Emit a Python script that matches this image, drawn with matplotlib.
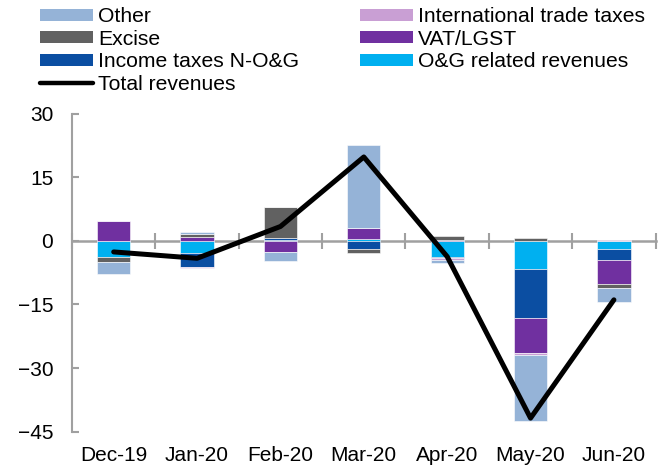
import numpy as np
import matplotlib.pyplot as plt
from matplotlib.patches import Patch
from matplotlib.lines import Line2D

plt.rcParams['font.family'] = ['Liberation Sans', 'DejaVu Sans']

months = ['Dec-19', 'Jan-20', 'Feb-20', 'Mar-20', 'Apr-20', 'May-20', 'Jun-20']

# contributions, in stacking order from zero outwards
og_rev = [-3.9, -2.8, 0.3, 0.5, -3.8, -6.6, -1.9]
income_nog = [0.0, -3.3, 0.5, -1.9, -0.3, -11.7, -2.6]
vat_lgst = [4.6, 0.9, -2.5, 2.5, 0.2, -8.2, -5.6]
excise = [-1.1, 0.8, 7.2, -1.0, 1.0, 0.6, -0.9]
intl_trade = [0.0, -0.4, 0.0, 0.0, -0.3, -0.4, 0.2]
other = [-2.8, 0.5, -2.2, 19.6, -0.8, -15.6, -3.4]
total = [-2.6, -4.1, 3.4, 19.8, -3.7, -41.8, -13.9]

series = [
    ('O&G related revenues', og_rev, '#00B0F0'),
    ('Income taxes N-O&G', income_nog, '#0B4EA2'),
    ('VAT/LGST', vat_lgst, '#7030A0'),
    ('Excise', excise, '#616161'),
    ('International trade taxes', intl_trade, '#C99FD4'),
    ('Other', other, '#95B3D7'),
]

fig = plt.figure(figsize=(6.7, 4.68), dpi=100)
ax = fig.add_axes([0.1075, 0.0776, 0.871, 0.6794])

x = np.arange(len(months))
pos_bottom = np.zeros(len(months))
neg_bottom = np.zeros(len(months))
handles = {}
for name, vals, col in series:
    v = np.array(vals)
    bottom = np.where(v >= 0, pos_bottom, neg_bottom)
    ax.bar(x, v, 0.4, bottom=bottom, color=col, edgecolor='white', linewidth=0.4, zorder=2)
    pos_bottom += np.clip(v, 0, None)
    neg_bottom += np.clip(v, None, 0)
    handles[name] = Patch(facecolor=col, edgecolor='none')

ax.plot(x, total, color='black', lw=3.6, zorder=3, solid_joinstyle='round',
        solid_capstyle='round')
handles['Total revenues'] = Line2D([], [], color='black', lw=3.2, solid_capstyle='round')

ax.set_xlim(-0.5, len(months) - 0.5)
ax.set_ylim(-45, 30)
ax.set_yticks([30, 15, 0, -15, -30, -45])

axis_col = '#A0A0A0'
for s in ['top', 'right']:
    ax.spines[s].set_visible(False)
ax.spines['left'].set_color(axis_col)
ax.spines['left'].set_linewidth(1.5)
ax.spines['bottom'].set_position(('data', 0))
ax.spines['bottom'].set_color(axis_col)
ax.spines['bottom'].set_linewidth(1.8)
ax.spines['bottom'].set_zorder(1)

ax.tick_params(axis='y', direction='in', length=5, width=1.5, color=axis_col,
               labelsize=15, pad=13.5)
ax.set_xticks(np.arange(len(months) + 1) - 0.5)
ax.set_xticklabels([])
ax.tick_params(axis='x', direction='inout', length=12, width=1.5, color=axis_col)

sec = ax.secondary_xaxis('bottom')
sec.set_xticks(x)
sec.set_xticklabels(months)
sec.tick_params(length=0, labelsize=15, pad=10.5)
sec.spines['bottom'].set_visible(False)

order = ['Other', 'Excise', 'Income taxes N-O&G', 'Total revenues',
         'International trade taxes', 'VAT/LGST', 'O&G related revenues']
fig.legend([handles[k] for k in order], order, ncol=2, loc='upper left',
           bbox_to_anchor=(0.0597, 0.984), frameon=False, fontsize=15.2,
           handlelength=2.5, handleheight=0.5, handletextpad=0.24,
           labelspacing=0.16, columnspacing=2.9, borderaxespad=0, borderpad=0)

fig.savefig('out.png', dpi=100)
